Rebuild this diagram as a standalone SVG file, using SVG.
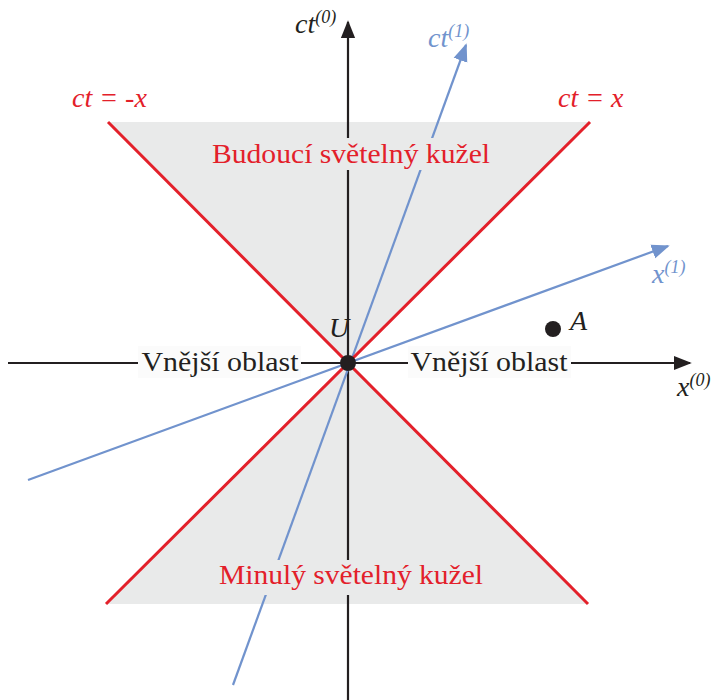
<svg xmlns="http://www.w3.org/2000/svg" width="718" height="700" viewBox="0 0 718 700">
<style>
.red{stroke:#e3202a;stroke-width:3;fill:none}
.ax{stroke:#231f20;stroke-width:2.2;fill:none}
.bl{stroke:#7193cd;stroke-width:2.2;fill:none}
.lab{font-family:"Liberation Serif","DejaVu Serif",serif;font-size:28px}
.it{font-family:"Liberation Serif","DejaVu Serif",serif;font-style:italic;font-size:28px}
.sup{font-size:18px}
</style>
<defs>
<marker id="ak" viewBox="0 0 10 10" refX="9" refY="5" markerWidth="9" markerHeight="9" markerUnits="userSpaceOnUse" orient="auto"><path d="M0,0 L10,5 L0,10 z" fill="#231f20"/></marker>
<marker id="ab" viewBox="0 0 10 10" refX="9" refY="5" markerWidth="8" markerHeight="8" markerUnits="userSpaceOnUse" orient="auto"><path d="M0,0 L10,5 L0,10 z" fill="#7193cd"/></marker>
<marker id="akb" viewBox="0 0 10 10" refX="9" refY="5" markerWidth="18" markerHeight="18" markerUnits="userSpaceOnUse" orient="auto"><path d="M0,1 L10,5 L0,9 z" fill="#231f20"/></marker>
<marker id="abb" viewBox="0 0 10 10" refX="9" refY="5" markerWidth="18" markerHeight="18" markerUnits="userSpaceOnUse" orient="auto"><path d="M0,1 L10,5 L0,9 z" fill="#7193cd"/></marker>
</defs>
<g id="cones">
<polygon points="108,122 590,122 348,363" fill="#e9eaea"/>
<polygon points="106,604 588,604 348,363" fill="#e9eaea"/>
</g>
<g id="connectors">
<line class="ax" x1="348" y1="700" x2="348" y2="22" marker-end="url(#akb)"/>
<line class="ax" x1="8" y1="363" x2="690" y2="363" marker-end="url(#akb)"/>
<line class="bl" x1="233" y1="685" x2="466" y2="45" marker-end="url(#abb)"/>
<line class="bl" x1="28" y1="480" x2="668" y2="246" marker-end="url(#abb)"/>
<line class="red" x1="108" y1="122" x2="588" y2="604"/>
<line class="red" x1="590" y1="122" x2="106" y2="604"/>
</g>
<g id="future">
<rect x="206" y="138" width="290" height="32" fill="#e9eaea"/>
<text class="lab" x="351" y="163" text-anchor="middle" fill="#e3202a" textLength="278" lengthAdjust="spacingAndGlyphs">Budoucí světelný kužel</text>
</g>
<g id="past">
<rect x="214" y="560" width="274" height="35" fill="#e9eaea"/>
<text class="lab" x="351" y="584" text-anchor="middle" fill="#e3202a" textLength="264" lengthAdjust="spacingAndGlyphs">Minulý světelný kužel</text>
</g>
<g id="outer-left">
<rect x="138" y="346" width="163" height="32" fill="#fbfbfb"/>
<text class="lab" x="220" y="371" text-anchor="middle" fill="#231f20" textLength="157" lengthAdjust="spacingAndGlyphs">Vnější oblast</text>
</g>
<g id="outer-right">
<rect x="408" y="346" width="163" height="32" fill="#fbfbfb"/>
<text class="lab" x="489" y="371" text-anchor="middle" fill="#231f20" textLength="157" lengthAdjust="spacingAndGlyphs">Vnější oblast</text>
</g>
<g id="U">
<circle cx="348" cy="363" r="8" fill="#231f20"/>
<text class="it" x="329" y="337" fill="#231f20">U</text>
</g>
<g id="A">
<circle cx="553" cy="329" r="8" fill="#231f20"/>
<text class="it" x="570" y="330" fill="#231f20">A</text>
</g>
<g id="labels">
<text class="it" x="72" y="107" fill="#e3202a">ct = -x</text>
<text class="it" x="558" y="107" fill="#e3202a">ct = x</text>
<text class="it" x="295" y="33" fill="#231f20">ct<tspan class="sup" dy="-10">(0)</tspan></text>
<text class="it" x="428" y="47" fill="#7193cd">ct<tspan class="sup" dy="-10">(1)</tspan></text>
<text class="it" x="652" y="283" fill="#7193cd">x<tspan class="sup" dy="-10">(1)</tspan></text>
<text class="it" x="677" y="396" fill="#231f20">x<tspan class="sup" dy="-10">(0)</tspan></text>
</g>
</svg>
